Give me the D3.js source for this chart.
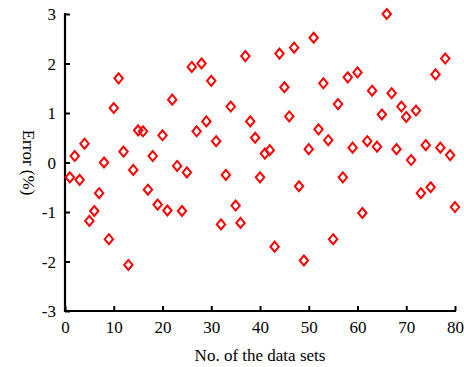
<!DOCTYPE html>
<html>
<head>
<meta charset="utf-8">
<script src="https://cdn.jsdelivr.net/npm/d3@7"></script>
<style>
  body { margin: 0; background: #fff; }
  text { font-family: "Liberation Serif", "Times New Roman", serif; fill: #000; }
</style>
</head>
<body>
<div id="chart"></div>
<script>
// data set numbers 1..80 and their error (%)
const dataSets = d3.range(1, 81);
const errors = [
  -0.30, 0.13, -0.35, 0.38, -1.18, -0.98, -0.62, 0.00, -1.55, 1.10,
  1.70, 0.22, -2.07, -0.15, 0.65, 0.63, -0.55, 0.13, -0.85, 0.55,
  -0.97, 1.27, -0.07, -0.98, -0.20, 1.93, 0.63, 2.00, 0.83, 1.65,
  0.43, -1.25, -0.25, 1.13, -0.87, -1.22, 2.15, 0.83, 0.50, -0.30,
  0.18, 0.25, -1.70, 2.20, 1.52, 0.93, 2.32, -0.48, -1.98, 0.27,
  2.52, 0.67, 1.60, 0.45, -1.55, 1.18, -0.30, 1.72, 0.30, 1.82,
  -1.02, 0.43, 1.45, 0.32, 0.97, 3.00, 1.40, 0.27, 1.13, 0.92,
  0.05, 1.05, -0.62, 0.35, -0.50, 1.78, 0.30, 2.10, 0.15, -0.90
];
const xTicks = [0, 10, 20, 30, 40, 50, 60, 70, 80];
const yTicks = [-3, -2, -1, 0, 1, 2, 3];

const width = 464, height = 367;
const margin = { left: 65, right: 9, top: 14, bottom: 56 };

const svg = d3.select('#chart')
  .append('svg')
  .attr('width', width)
  .attr('height', height);

const x = d3.scaleLinear().domain([0, 80]).range([margin.left, width - margin.right]);
const y = d3.scaleLinear().domain([-3, 3]).range([height - margin.bottom, margin.top]);

// x axis, ticks pointing up into the plot
const xAxis = svg.append('g')
  .attr('transform', 'translate(0,' + y(-3) + ')')
  .call(d3.axisBottom(x).tickValues(xTicks).tickFormat(d => String(d))
    .tickSize(-5).tickPadding(10).tickSizeOuter(0));

// y axis, ticks pointing right into the plot
const yAxis = svg.append('g')
  .attr('transform', 'translate(' + x(0) + ',0)')
  .call(d3.axisLeft(y).tickValues(yTicks).tickFormat(d => String(d))
    .tickSize(-5).tickPadding(9).tickSizeOuter(0));

[xAxis, yAxis].forEach(g => {
  g.select('.domain').attr('stroke', '#000').attr('stroke-width', 2.2);
  g.selectAll('.tick line').attr('stroke', '#000').attr('stroke-width', 2);
  g.selectAll('.tick text').style('font-size', '17px').attr('fill', '#000');
});
xAxis.select('.domain').attr('d', 'M' + (x(0) - 1) + ',0H' + (x(80) + 1));
yAxis.select('.domain').attr('d', 'M0,' + (y(-3) + 1) + 'V' + (y(3) - 1));
yAxis.selectAll('.tick text').attr('dy', '0.35em');

// diamond markers
const diamond = 'M0,-5L4.2,0L0,5L-4.2,0Z';
svg.append('g')
  .selectAll('path')
  .data(dataSets)
  .enter()
  .append('path')
  .attr('d', diamond)
  .attr('transform', (d, i) => 'translate(' + x(d) + ',' + y(errors[i]) + ')')
  .attr('fill', 'none')
  .attr('stroke', '#ff0000')
  .attr('stroke-width', 2);

// axis titles
svg.append('text')
  .attr('x', (x(0) + x(80)) / 2)
  .attr('y', 361)
  .attr('text-anchor', 'middle')
  .style('font-size', '17px')
  .text('No. of the data sets');

svg.append('text')
  .attr('transform', 'translate(23,' + y(0) + ') rotate(90)')
  .attr('text-anchor', 'middle')
  .style('font-size', '17px')
  .text('Error (%)');
</script>
</body>
</html>
